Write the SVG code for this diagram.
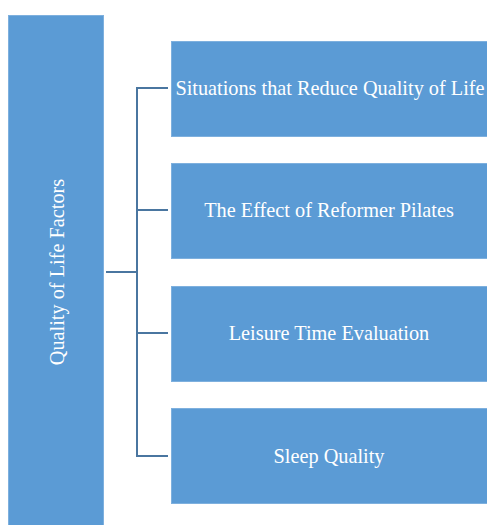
<svg xmlns="http://www.w3.org/2000/svg" width="487" height="525" viewBox="0 0 487 525">
  <style>
    .box { fill: #5b9bd5; stroke: #7eb0de; stroke-width: 1; }
    .lbl { fill: #ffffff; font-family: "Liberation Serif", "Times New Roman", serif; font-size: 20.3px; text-anchor: middle; dominant-baseline: central; }
    .wire { fill: none; stroke: #4a76a0; stroke-width: 2; }
  </style>
  <rect width="487" height="525" fill="#ffffff"/>

  <g id="root">
    <rect class="box" x="8.5" y="15.5" width="95" height="515"/>
    <text class="lbl" transform="translate(57 272) rotate(-90)">Quality of Life Factors</text>
  </g>

  <g id="connectors">
    <path class="wire" d="M106 272 H137"/>
    <path class="wire" d="M168 88 H137 V456 H168"/>
    <path class="wire" d="M137 210 H168"/>
    <path class="wire" d="M137 333 H168"/>
  </g>

  <g id="n1">
    <rect class="box" x="171.5" y="41.5" width="320" height="95"/>
    <text class="lbl" x="330" y="88">Situations that Reduce Quality of Life</text>
  </g>
  <g id="n2">
    <rect class="box" x="171.5" y="163.5" width="320" height="95"/>
    <text class="lbl" x="329" y="210">The Effect of Reformer Pilates</text>
  </g>
  <g id="n3">
    <rect class="box" x="171.5" y="286.5" width="320" height="95"/>
    <text class="lbl" x="329" y="333">Leisure Time Evaluation</text>
  </g>
  <g id="n4">
    <rect class="box" x="171.5" y="408.5" width="320" height="95"/>
    <text class="lbl" x="329" y="456">Sleep Quality</text>
  </g>
</svg>
